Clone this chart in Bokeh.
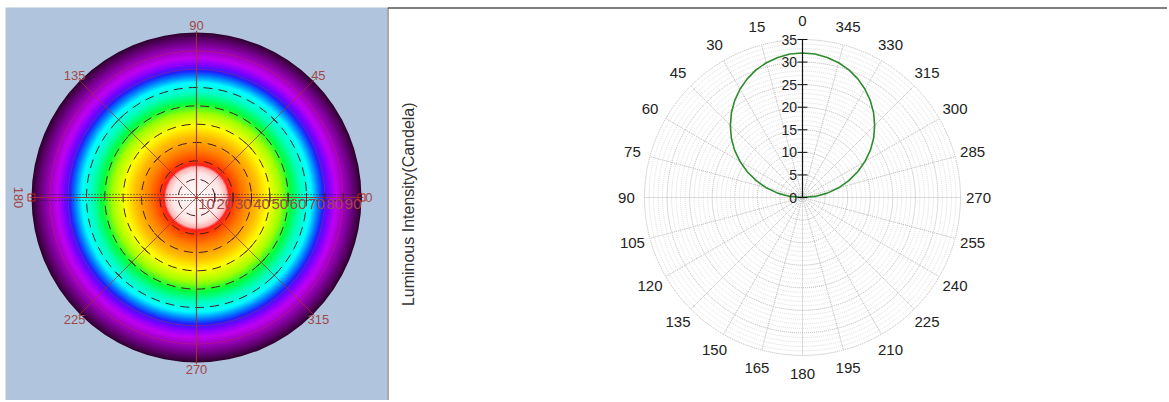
import numpy as np
from bokeh.plotting import figure
from bokeh.layouts import row
from bokeh.models import Span
from bokeh.embed import file_html
from bokeh.resources import INLINE
from bokeh.core.properties import value

# ---------------- data ----------------
# Right panel: luminous intensity (cd) vs angle (deg, 0 = up, counter-clockwise)
angles_deg = [270, 275, 280, 285, 290, 295, 300, 305, 310, 315, 320, 325, 330, 335, 340, 345, 350, 355,
              0, 5, 10, 15, 20, 25, 30, 35, 40, 45, 50, 55, 60, 65, 70, 75, 80, 85, 90]
intensity_cd = [0.0, 2.8, 5.6, 8.3, 10.9, 13.5, 16.0, 18.4, 20.6, 22.6, 24.5, 26.2, 27.7, 29.0, 30.1, 30.9, 31.5, 31.9,
                32.0, 31.9, 31.5, 30.9, 30.1, 29.0, 27.7, 26.2, 24.5, 22.6, 20.6, 18.4, 16.0, 13.5, 10.9, 8.3, 5.6, 2.8, 0.0]
radial_ticks = [0, 5, 10, 15, 20, 25, 30, 35]
angle_ticks = list(range(0, 360, 15))

# Left panel: false-colour map, radius = polar angle 0..90 deg
ring_labels = [10, 20, 30, 40, 50, 60, 70, 80, 90]
dashed_rings = [10, 20, 30, 40, 50, 60]
azimuth_labels = [0, 45, 90, 135, 180, 225, 270, 315]
colour_stop_r = [0, 13.6, 16.9, 18.0, 20.7, 26.2, 33.8, 39.3, 46.4, 51.8, 57.3, 62.7, 66.5, 69.3, 72.6, 76.4, 81.8, 86.2, 90.0]
colour_stop_c = ["#ffffff", "#ffe6e6", "#ffb0b0", "#ff2020", "#ff4000", "#ff8000", "#ffc000", "#ffff00",
                 "#a0ff00", "#00ff40", "#00ffc0", "#00ffff", "#0080ff", "#2020ff", "#8000ff", "#c000f0",
                 "#9000b0", "#600070", "#300030"]

FONT = value("Liberation Sans")

# ---------------- left panel ----------------
FW1, FH1 = 382, 393          # frame size
sc1 = 1.8335
cx1, cy1 = 191, 190          # centre inside frame
left = figure(width=FW1 + 5, height=FH1 + 7, output_backend="svg", toolbar_location=None,
              x_range=(-cx1 / sc1, (FW1 - cx1) / sc1), y_range=(-(FH1 - cy1) / sc1, cy1 / sc1),
              min_border=0, min_border_left=5, min_border_top=7)
left.axis.visible = False
left.grid.visible = False
left.outline_line_color = None
left.background_fill_color = "#b0c4de"
left.border_fill_color = "white"

def hex2rgb(h):
    return np.array([int(h[i:i + 2], 16) for i in (1, 3, 5)], dtype=float)

stops_rgb = np.array([hex2rgb(c) for c in colour_stop_c])
rs = np.arange(90.0, 0.0, -0.5)
cols = []
for r in rs:
    rgb = [np.interp(r, colour_stop_r, stops_rgb[:, k]) for k in range(3)]
    cols.append("#%02x%02x%02x" % tuple(int(round(v)) for v in rgb))
left.circle(x=np.zeros(len(rs)), y=np.zeros(len(rs)), radius=rs, fill_color=cols, line_color=None)

# faint red rings
left.circle(x=[0, 0], y=[0, 0], radius=[70, 80], fill_color=None, line_color="#d03030",
            line_alpha=0.35, line_width=1)
# dashed rings
left.circle(x=[0] * len(dashed_rings), y=[0] * len(dashed_rings), radius=dashed_rings,
            fill_color=None, line_color="#402020", line_dash="9 6", line_width=1)

red = "#a03030"
L = 91
# cross lines
left.segment(x0=[0, -L], y0=[-L, 0], x1=[0, L], y1=[L, 0], line_color=red, line_width=1.2, line_alpha=0.9)
# diagonals
for a in [45, 135, 225, 315]:
    t = np.radians(a)
    left.segment(x0=[0], y0=[0], x1=[L * np.cos(t)], y1=[L * np.sin(t)], line_color=red,
                 line_width=1, line_alpha=0.75)
    tx, ty = -np.sin(t), np.cos(t)
    for rr in [30, 40, 50, 60]:
        px, py = rr * np.cos(t), rr * np.sin(t)
        left.segment(x0=[px - 2.5 * tx], y0=[py - 2.5 * ty], x1=[px + 2.5 * tx], y1=[py + 2.5 * ty],
                     line_color="#402020", line_width=1)
# dotted lines beside horizontal axis
left.segment(x0=[-90, -90], y0=[1.6, -1.6], x1=[90, 90], y1=[1.6, -1.6], line_color="#202020",
             line_dash="1 2", line_width=1)
# ticks on horizontal axis
left.segment(x0=ring_labels, y0=[-2.5] * len(ring_labels), x1=ring_labels, y1=[2.5] * len(ring_labels),
             line_color="#402020", line_width=1)
# end squares
left.scatter(x=[-90, 90], y=[0, 0], marker="square", size=7, fill_color=None, line_color="#c02020")
# ring labels
left.text(x=ring_labels, y=[-0.8] * len(ring_labels), text=[str(v) for v in ring_labels],
          text_align="right", text_baseline="top", text_font=FONT, text_font_size="15px",
          text_color="#a04848")
# azimuth labels
lab_r = 94
for a in azimuth_labels:
    t = np.radians(a)
    if a == 180:
        left.text(x=[-97], y=[0], text=[str(a)], angle=-np.pi / 2, text_align="center",
                  text_baseline="middle", text_font=FONT, text_font_size="13px", text_color="#a04848")
    else:
        left.text(x=[lab_r * np.cos(t)], y=[lab_r * np.sin(t)], text=[str(a)], text_align="center",
                  text_baseline="middle", text_font=FONT, text_font_size="13px", text_color="#a04848")

# ---------------- right panel ----------------
FW2, FH2 = 780, 393
sc2 = 4.514
cx2, cy2 = 415, 190
right = figure(width=FW2, height=FH2 + 7, output_backend="svg", toolbar_location=None,
               x_range=(-cx2 / sc2, (FW2 - cx2) / sc2), y_range=(-(FH2 - cy2) / sc2, cy2 / sc2),
               min_border=0, min_border_top=7)
right.axis.visible = False
right.grid.visible = False
right.outline_line_color = None
right.background_fill_color = "white"
right.border_fill_color = "white"

R = 35
minor = [r for r in range(1, R) if r % 5 != 0]
major = [r for r in radial_ticks if r > 0]
right.circle(x=[0] * len(minor), y=[0] * len(minor), radius=minor, fill_color=None,
             line_color="#d4d4d4", line_dash="1 1", line_width=0.8)
right.circle(x=[0] * len(major), y=[0] * len(major), radius=major, fill_color=None,
             line_color="#b4b4b4", line_dash="1 1", line_width=1)
# radial lines
th = np.radians(angle_ticks)
right.segment(x0=[0] * len(th), y0=[0] * len(th), x1=list(-R * np.sin(th)), y1=list(R * np.cos(th)),
              line_color="#b8b8b8", line_dash="1 1", line_width=1)
# angle labels
LR = 39
right.text(x=list(-LR * np.sin(th)), y=list(LR * np.cos(th)), text=[str(a) for a in angle_ticks],
           text_align="center", text_baseline="middle", text_font=FONT, text_font_size="15px",
           text_color="#222222")
# intensity curve
ta = np.radians(angles_deg)
ic = np.array(intensity_cd)
right.line(x=list(-ic * np.sin(ta)), y=list(ic * np.cos(ta)), line_color="#2e8b2e", line_width=1.6)
# radial axis
right.segment(x0=[0], y0=[0], x1=[0], y1=[R], line_color="#111111", line_width=1.2)
right.segment(x0=[-1.1] * len(radial_ticks), y0=radial_ticks, x1=[1.1] * len(radial_ticks),
              y1=radial_ticks, line_color="#111111", line_width=1)
right.text(x=[-1.2] * len(radial_ticks), y=radial_ticks, text=[str(v) for v in radial_ticks],
           text_align="right", text_baseline="middle", text_font=FONT, text_font_size="14px",
           text_color="#222222")
# y label
right.text(x=[-87.3], y=[-1.5], text=["Luminous Intensity(Candela)"], angle=np.pi / 2,
           text_align="center", text_baseline="middle", text_font=FONT, text_font_size="16px",
           text_color="#333333")
# borders
right.add_layout(Span(location=cy2 / sc2, dimension="width", line_color="black", line_width=2))
right.add_layout(Span(location=-cx2 / sc2, dimension="height", line_color="#555555", line_width=2))

p = row(left, right)
open("out.html", "w").write(file_html(p, INLINE))
